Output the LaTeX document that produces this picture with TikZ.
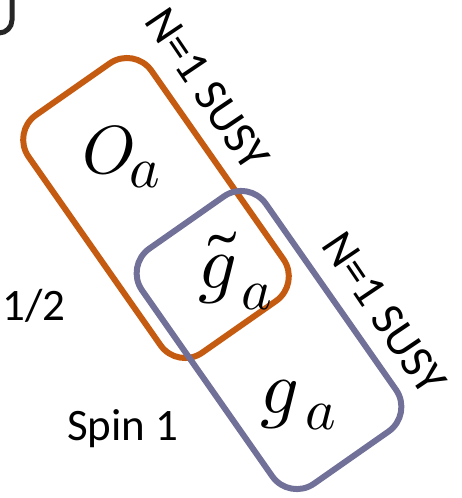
\documentclass[tikz,border=0pt]{standalone}
\usepackage{fontspec}
\usepackage{unicode-math}
\setmainfont{Carlito}
\setmathfont{Latin Modern Math}
\definecolor{boxorange}{RGB}{197,90,17}
\definecolor{boxpurple}{RGB}{112,112,152}
\definecolor{cornergray}{RGB}{38,38,38}
\newcommand\msz[2]{{\fontsize{#1}{#1}\selectfont$#2$}}
\begin{document}
\begin{tikzpicture}[x=1pt,y=1pt,
  grp/.style={draw, line width=6pt, rounded corners=30pt, inner sep=0pt, outer sep=0pt},
  susy/.style={font=\fontsize{47}{47}\selectfont, inner sep=0pt},
  plain/.style={font=\fontsize{45}{45}\selectfont, inner sep=0pt, anchor=base west},
  field/.style={inner sep=0pt, anchor=base west}]
\useasboundingbox (0,0) rectangle (462,-498);
% cut-off corner of a box at top left
\coordinate (c1) at (12,0);
\coordinate (c2) at (0,-33);
\draw[cornergray, line width=5pt] (c1) -- ++(0,-20) arc[start angle=0, end angle=-90, radius=13] -- (c2);
% groups
\node[grp, draw=boxorange, minimum width=290pt, minimum height=150pt, rotate=-55] (orange) at (156,-208) {};
\node[grp, draw=boxpurple, minimum width=287pt, minimum height=151pt, rotate=-55] (purple) at (269,-340) {};
% labels
\node[susy, rotate=-56] (s1) at (207,-89) {N=1 SUSY};
\node[susy, rotate=-56] (s2) at (384,-313) {N=1 SUSY};
\node[plain] (half) at (2,-320) {1/2};
\node[plain] (spin) at (67,-440) {Spin 1};
% fields
\node[field] (O) at (82,-173) {\msz{68}{O}};
\node[field] (Oa) at (129,-187) {\msz{58}{a}};
\node[field] (gt) at (198,-288) {\msz{76}{\tilde{g}}};
\node[field] (gta) at (241,-309) {\msz{58}{a}};
\node[field] (g) at (260,-413) {\msz{76}{g}};
\node[field] (ga) at (305,-429) {\msz{58}{a}};
\end{tikzpicture}
\end{document}
